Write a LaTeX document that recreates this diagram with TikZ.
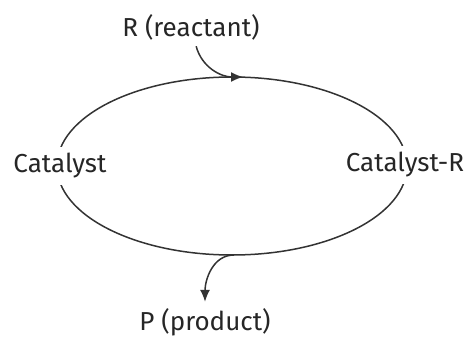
\documentclass[tikz,border=0pt]{standalone}
\usepackage{fontspec}
\setmainfont{Fira Sans}
\usepackage{xcolor}
\usetikzlibrary{arrows.meta, positioning, calc}

\begin{document}
\begin{tikzpicture}[
    x=0.5pt, y=-0.5pt,
    cycle/.style={draw, black!80, line width=0.75pt},
    species/.style={fill=white, inner sep=3pt, font=\fontsize{13}{16}\selectfont, text=black!85},
    flow/.style={draw, -{Latex[length=6pt, width=5pt]}, black!80, line width=0.75pt}
]
\useasboundingbox (0,0) rectangle (467,337);
\coordinate (centre) at (232,166);
\draw[cycle] (centre) ellipse [x radius=175, y radius=89];
\node[species] (cat) at (60,166) {Catalyst};
\node[species] (catR) at (405,165) {Catalyst-R};
\node[species, fill=none] (reactant) at (191,27) {R (reactant)};
\node[species, fill=none] (product) at (205,322) {P (product)};
% in and out of the cycle
\coordinate (top) at (243,77);
\coordinate (bottom) at (234,255);
\draw[flow] (reactant) to[out=-75, in=180] (top);
\draw[flow] (bottom) to[out=180, in=90] (product);
\end{tikzpicture}
\end{document}
